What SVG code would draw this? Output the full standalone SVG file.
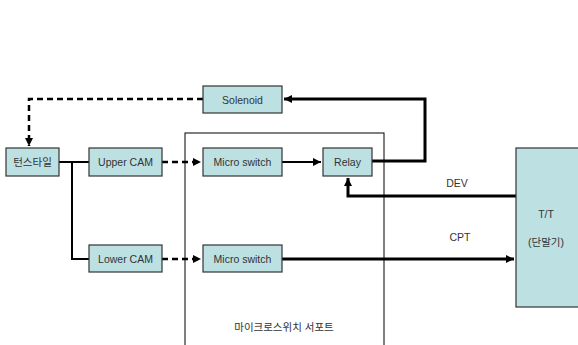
<svg xmlns="http://www.w3.org/2000/svg" width="578" height="345" viewBox="0 0 578 345">
<style>
.box{fill:#bde0e2;stroke:#333;stroke-width:1.2}
.t{font-family:"Liberation Sans","Noto Sans CJK KR",sans-serif;font-size:10.5px;fill:#333;text-anchor:middle;dominant-baseline:central}
.thin{fill:none;stroke:#000;stroke-width:2}
.thick{fill:none;stroke:#000;stroke-width:3}
.dash{fill:none;stroke:#000;stroke-width:2.5;stroke-dasharray:6,4}
</style>
<defs>
<marker id="ah" viewBox="0 0 10 10" refX="10" refY="5" markerWidth="8" markerHeight="8" markerUnits="userSpaceOnUse" orient="auto">
<path d="M0,0 L10,5 L0,10 Z" fill="#000"/>
</marker>
</defs>
<g id="support">
<rect x="185" y="133" width="199" height="220" fill="none" stroke="#000" stroke-width="1"/>
<text class="t" x="284" y="327">마이크로스위치 서포트</text>
</g>
<g id="connectors">
<path class="dash" d="M203,99 H29 V146" marker-end="url(#ah)"/>
<path class="thick" d="M372,161 H425 V99 H284" marker-end="url(#ah)"/>
<path class="thin" d="M59,162 H89 M72,162 V259 H89"/>
<path class="dash" d="M162,162 H201" marker-end="url(#ah)"/>
<path class="dash" d="M162,259 H201" marker-end="url(#ah)"/>
<path class="thin" d="M282,162 H321" marker-end="url(#ah)"/>
<path class="thick" d="M516,196 H348 V178" marker-end="url(#ah)"/>
<path class="thick" d="M282,259 H514" marker-end="url(#ah)"/>
<text class="t" x="457" y="183">DEV</text>
<text class="t" x="460" y="237">CPT</text>
</g>
<g id="solenoid"><rect class="box" x="203" y="86" width="79" height="27"/><text class="t" x="242.5" y="99.5">Solenoid</text></g>
<g id="turnstile"><rect class="box" x="6" y="148" width="53" height="28"/><text class="t" x="32.5" y="162">턴스타일</text></g>
<g id="upper-cam"><rect class="box" x="89" y="148" width="73" height="28"/><text class="t" x="125.5" y="162">Upper CAM</text></g>
<g id="micro-switch-upper"><rect class="box" x="203" y="148" width="79" height="28"/><text class="t" x="242.5" y="162">Micro switch</text></g>
<g id="relay"><rect class="box" x="323" y="148" width="49" height="28"/><text class="t" x="347.5" y="162">Relay</text></g>
<g id="lower-cam"><rect class="box" x="89" y="245" width="73" height="27"/><text class="t" x="125.5" y="258.5">Lower CAM</text></g>
<g id="micro-switch-lower"><rect class="box" x="203" y="245" width="79" height="27"/><text class="t" x="242.5" y="258.5">Micro switch</text></g>
<g id="tt"><rect class="box" x="516" y="148" width="70" height="159"/><text class="t" x="546" y="214">T/T</text><text class="t" x="546" y="242">(단말기)</text></g>
</svg>
